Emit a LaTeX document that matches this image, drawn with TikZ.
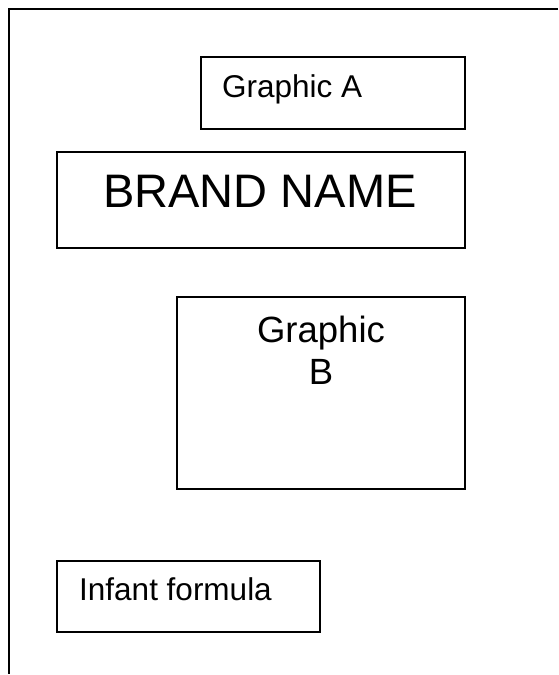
\documentclass[tikz,border=0pt]{standalone}
\usepackage{fontspec}
\setmainfont{Liberation Sans}
\usetikzlibrary{positioning}
\tikzset{
  box/.style={draw, line width=2pt, inner sep=0pt, minimum width=#1},
  lbl/.style={inner sep=0pt, font=\fontsize{#1}{42}\selectfont}
}

\begin{document}
\begin{tikzpicture}[x=1pt, y=-1pt]
				% Page frame:
				\useasboundingbox (0, 0) rectangle (558, 675);
				\coordinate (P1) at (558, 9);
				\coordinate (P2) at (8.5, 9);
				\coordinate (P3) at (8.5, 674);
				\draw[line width=2pt] (P1) -- (P2) -- (P3);
				% Boxes:
				\node[box=264pt, minimum height=72pt](GA) at (333, 93){};
				\node[box=408pt, minimum height=96pt](BN) at (261, 200){};
				\node[box=288pt, minimum height=192pt](GB) at (321, 393){};
				\node[box=263pt, minimum height=71pt](IF) at (188.5, 596.5){};
				% Labels:
				\node[lbl=31.5, anchor=base west](GAt) at (222, 97){Graphic A};
				\node[lbl=47, anchor=base](BNt) at (260, 207){BRAND NAME};
				\node[lbl=36.5, anchor=base, align=center](GBt) at (321, 384){Graphic\\B};
				\node[lbl=31.5, anchor=base west](IFt) at (79, 600){Infant formula};
			\end{tikzpicture}
\end{document}
